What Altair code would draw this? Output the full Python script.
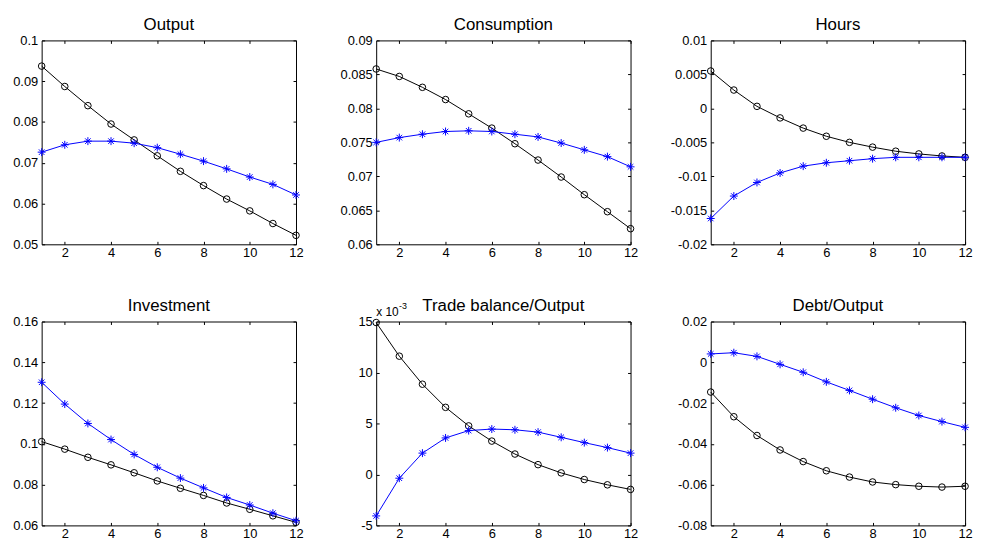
import altair as alt
import pandas as pd

periods = list(range(1, 13))

titles = ["Output", "Consumption", "Hours", "Investment", "Trade balance/Output", "Debt/Output"]

out_black = [0.0937, 0.0887, 0.0840, 0.0795, 0.0756, 0.0717, 0.0679, 0.0644, 0.0611, 0.0582, 0.0551, 0.0522]
out_blue = [0.0726, 0.0744, 0.0753, 0.0753, 0.0748, 0.0737, 0.0721, 0.0704, 0.0685, 0.0665, 0.0647, 0.0621]

cons_black = [0.0858, 0.0847, 0.0831, 0.0813, 0.0792, 0.0771, 0.0748, 0.0724, 0.0699, 0.0673, 0.0648, 0.0623]
cons_blue = [0.0750, 0.0757, 0.0762, 0.0766, 0.0767, 0.0766, 0.0762, 0.0758, 0.0749, 0.0739, 0.0729, 0.0714]

hours_black = [0.0055, 0.0027, 0.0003, -0.0014, -0.0029, -0.0041, -0.0050, -0.0057, -0.0063, -0.0067, -0.0070, -0.0072]
hours_blue = [-0.0162, -0.0129, -0.0109, -0.0095, -0.0085, -0.0080, -0.0077, -0.0074, -0.0072, -0.0072, -0.0072, -0.0072]

inv_black = [0.1011, 0.0974, 0.0934, 0.0897, 0.0858, 0.0818, 0.0782, 0.0747, 0.0710, 0.0679, 0.0647, 0.0615]
inv_blue = [0.1302, 0.1195, 0.1100, 0.1021, 0.0948, 0.0885, 0.0832, 0.0784, 0.0737, 0.0700, 0.0660, 0.0623]

# trade balance / output, in units of 10^-3
tb_black = [14.9, 11.6, 8.85, 6.58, 4.76, 3.27, 2.0, 0.96, 0.15, -0.5, -1.02, -1.47]
tb_blue = [-4.07, -0.37, 2.09, 3.58, 4.3, 4.45, 4.38, 4.15, 3.64, 3.12, 2.63, 2.09]

debt_black = [-0.0146, -0.0267, -0.0359, -0.0430, -0.0487, -0.0532, -0.0563, -0.0587, -0.0600, -0.0608, -0.0612, -0.0608]
debt_blue = [0.0041, 0.0047, 0.0029, -0.0010, -0.0049, -0.0096, -0.0138, -0.0181, -0.0223, -0.0261, -0.0291, -0.0319]

x_ticks = [2, 4, 6, 8, 10, 12]
y_ticks = [
    [0.05, 0.06, 0.07, 0.08, 0.09, 0.1],
    [0.06, 0.065, 0.07, 0.075, 0.08, 0.085, 0.09],
    [-0.02, -0.015, -0.01, -0.005, 0, 0.005, 0.01],
    [0.06, 0.08, 0.1, 0.12, 0.14, 0.16],
    [-5, 0, 5, 10, 15],
    [-0.08, -0.06, -0.04, -0.02, 0, 0.02],
]

series = [
    (out_black, out_blue),
    (cons_black, cons_blue),
    (hours_black, hours_blue),
    (inv_black, inv_blue),
    (tb_black, tb_blue),
    (debt_black, debt_blue),
]

W, H = 257, 206
FONT = "Liberation Sans"
ASTERISK = "M0,-1L0,1M-1,0L1,0M-0.7,-0.7L0.7,0.7M-0.7,0.7L0.7,-0.7"


def panel(title, black, blue, ticks, sci=False):
    df = pd.DataFrame({"t": periods + periods,
                       "v": black + blue,
                       "s": ["black"] * 12 + ["blue"] * 12})
    x = alt.X("t:Q", scale=alt.Scale(domain=[1, 12], nice=False, zero=False),
              axis=alt.Axis(values=x_ticks, title=None, tickSize=0, labelPadding=2,
                            labelFlush=False, labelOverlap=False,
                            domain=False, grid=True, gridColor="black", gridOpacity=1,
                            gridWidth=1, gridDash=[3, H - 6, 3, 2000],
                            labelFont=FONT, labelFontSize=13, labelColor="black"))
    y = alt.Y("v:Q", scale=alt.Scale(domain=[ticks[0], ticks[-1]], nice=False, zero=False),
              axis=alt.Axis(values=ticks, title=None, tickSize=0, labelPadding=4,
                            labelFlush=False, labelOverlap=False,
                            domain=False, grid=True, gridColor="black", gridOpacity=1,
                            gridWidth=1, gridDash=[3, W - 6, 3, 2000],
                            labelExpr="toString(datum.value)",
                            labelFont=FONT, labelFontSize=13, labelColor="black"))
    base = alt.Chart(df)
    blk = base.transform_filter(alt.datum.s == "black")
    blu = base.transform_filter(alt.datum.s == "blue")
    lab = pd.DataFrame({"title": [title], "a": ["x 10"], "b": ["-3"]})
    layers = [
        blk.mark_line(color="black", strokeWidth=1).encode(x=x, y=y),
        blk.mark_point(shape="circle", filled=False, color="black", size=44, strokeWidth=1, opacity=1).encode(x=x, y=y),
        blu.mark_line(color="#0000ff", strokeWidth=1).encode(x=x, y=y),
        blu.mark_point(shape=ASTERISK, filled=False, color="#0000ff", size=64, strokeWidth=1, opacity=1).encode(x=x, y=y),
        alt.Chart(lab).mark_text(align="center", baseline="alphabetic", font=FONT, fontSize=17,
                                 color="black").encode(text="title:N", x=alt.value(W / 2), y=alt.value(-11)),
    ]
    if sci:
        layers.append(alt.Chart(lab).mark_text(align="left", baseline="alphabetic", font=FONT,
                                               fontSize=12, color="black")
                      .encode(text="a:N", x=alt.value(0), y=alt.value(-6)))
        layers.append(alt.Chart(lab).mark_text(align="left", baseline="alphabetic", font=FONT,
                                               fontSize=9, color="black")
                      .encode(text="b:N", x=alt.value(23), y=alt.value(-13)))
    return alt.layer(*layers).properties(width=W, height=H)


panels = [panel(titles[i], series[i][0], series[i][1], y_ticks[i], sci=(i == 4)) for i in range(6)]

chart = alt.concat(*panels, columns=3, spacing={"row": 78, "column": 81}).properties(
    bounds="flush",
    padding={"left": 4, "top": 4, "right": 0, "bottom": -3},
    background="white",
).configure_view(stroke="black", strokeWidth=1)

chart.save("out.html", embed_options={"renderer": "svg", "actions": False})
